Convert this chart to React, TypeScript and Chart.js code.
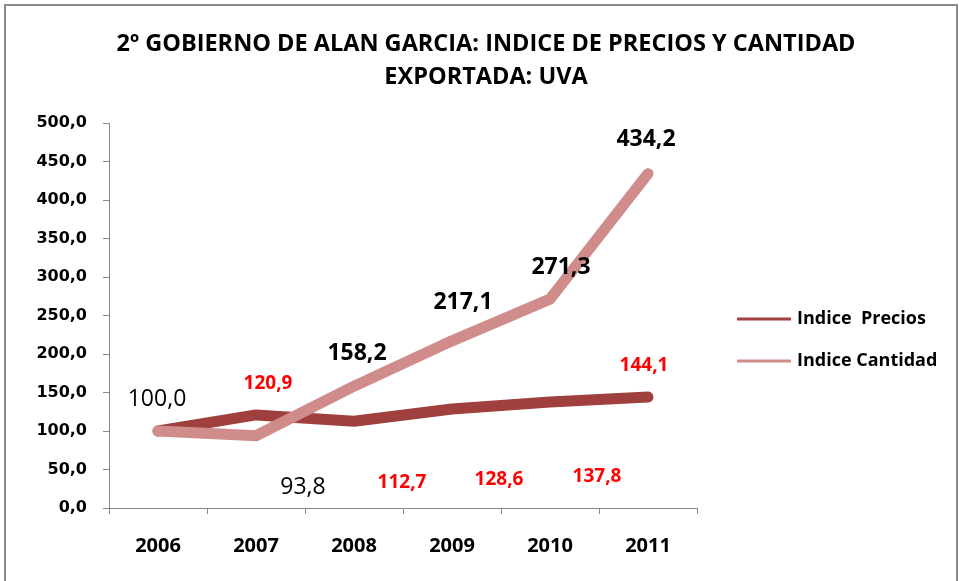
import React, { useEffect, useRef } from "react";
import { Chart, registerables } from "chart.js";

Chart.register(...registerables);

const categories = ["2006", "2007", "2008", "2009", "2010", "2011"];
const preciosValues = [100.0, 120.9, 112.7, 128.6, 137.8, 144.1];
const cantidadValues = [100.0, 93.8, 158.2, 217.1, 271.3, 434.2];
const seriesNames = ["Indice  Precios", "Indice Cantidad"];
const titleLines = ["2º GOBIERNO DE ALAN GARCIA: INDICE DE PRECIOS Y CANTIDAD", "EXPORTADA: UVA"];

const FONT = "'Open Sans', sans-serif";
const fmt = (v: number) => v.toFixed(1).replace(".", ",");

// label placement relative to point (dx, dy in px)
const labelStyles = [
  {
    color: "#ff0000",
    size: 19,
    offsets: [[0, 0], [12, -31], [48, 61], [47, 71], [47, 75], [-4, -31]],
    bold: [true, true, true, true, true, true],
    hidden: [true, false, false, false, false, false],
  },
  {
    color: "#000000",
    size: 23,
    offsets: [[-1, -32], [47, 52], [3, -33], [11, -38], [11, -32], [-2, -34]],
    bold: [false, false, true, true, true, true],
    hidden: [false, false, false, false, false, false],
  },
];

const titlePlugin = {
  id: "customTitle",
  afterDraw(chart: any) {
    const ctx = chart.ctx;
    ctx.save();
    ctx.fillStyle = "#000";
    ctx.font = `bold 23.5px ${FONT}`;
    ctx.textAlign = "center";
    ctx.textBaseline = "middle";
    const ys = [44, 77];
    titleLines.forEach((t, i) => ctx.fillText(t, 486, ys[i]));
    ctx.restore();
  },
};

const dataLabelPlugin = {
  id: "customLabels",
  afterDatasetsDraw(chart: any) {
    const ctx = chart.ctx;
    chart.data.datasets.forEach((ds: any, di: number) => {
      const meta = chart.getDatasetMeta(di);
      const st = labelStyles[di];
      meta.data.forEach((pt: any, i: number) => {
        if (st.hidden[i]) return;
        const v = ds.data[i];
        ctx.save();
        ctx.fillStyle = st.color;
        ctx.font = `${st.bold[i] ? "bold " : ""}${st.size}px ${FONT}`;
        ctx.textAlign = "center";
        ctx.textBaseline = "middle";
        ctx.fillText(fmt(v), pt.x + st.offsets[i][0], pt.y + st.offsets[i][1]);
        ctx.restore();
      });
    });
  },
};

const legendPlugin = {
  id: "customLegend",
  afterDraw(chart: any) {
    const ctx = chart.ctx;
    const x0 = 737;
    const ys = [319, 361];
    chart.data.datasets.forEach((ds: any, di: number) => {
      ctx.save();
      ctx.strokeStyle = ds.borderColor;
      ctx.lineWidth = 3;
      ctx.beginPath();
      ctx.moveTo(x0, ys[di]);
      ctx.lineTo(x0 + 54, ys[di]);
      ctx.stroke();
      ctx.fillStyle = "#000";
      ctx.font = `bold 18px ${FONT}`;
      ctx.textAlign = "left";
      ctx.textBaseline = "middle";
      ctx.fillText(ds.label, x0 + 60, ys[di]);
      ctx.restore();
    });
  },
};

export default function App() {
  const canvasRef = useRef<HTMLCanvasElement | null>(null);

  useEffect(() => {
    document.body.style.margin = "0";
    const canvas = canvasRef.current!;
    const chart = new Chart(canvas, {
      type: "line",
      data: {
        labels: categories,
        datasets: [
          {
            label: seriesNames[0],
            data: preciosValues,
            borderColor: "#A0403E",
            backgroundColor: "#A0403E",
            borderWidth: 11,
            pointRadius: 0,
            tension: 0,
            borderCapStyle: "round",
            borderJoinStyle: "round",
            order: 2,
          },
          {
            label: seriesNames[1],
            data: cantidadValues,
            borderColor: "#D08C8B",
            backgroundColor: "#D08C8B",
            borderWidth: 11,
            pointRadius: 0,
            tension: 0,
            borderCapStyle: "round",
            borderJoinStyle: "round",
            order: 1,
          },
        ],
      },
      options: {
        responsive: false,
        animation: false,
        layout: { padding: { top: 123, left: 0, right: 266, bottom: 0 } },
        plugins: {
          legend: { display: false },
          tooltip: { enabled: false },
          title: { display: false },
        },
        scales: {
          x: {
            type: "category",
            offset: true,
            grid: { offset: true, drawOnChartArea: false, drawTicks: true, tickLength: 6, color: "#888" },
            border: { display: true, color: "#888", width: 1 },
            ticks: { color: "#000", font: { family: FONT, size: 20, weight: "bold" }, padding: 20 },
            afterFit: (s: any) => { s.height = 73; },
          },
          y: {
            min: 0,
            max: 500,
            grid: { drawOnChartArea: false, drawTicks: true, tickLength: 6, color: "#888" },
            border: { display: true, color: "#888", width: 1 },
            ticks: {
              stepSize: 50,
              color: "#000",
              font: { family: "'DejaVu Sans', sans-serif", size: 16, weight: "bold" },
              padding: 16,
              callback: (v: any) => fmt(Number(v)),
            },
            afterFit: (s: any) => { s.width = 109; },
          },
        },
      },
      plugins: [dataLabelPlugin, legendPlugin, titlePlugin],
    });
    return () => chart.destroy();
  }, []);

  return (
    <div style={{ position: "relative", width: 963, height: 581, background: "#fff" }}>
      <canvas ref={canvasRef} width={963} height={581} style={{ display: "block" }} />
      <div
        style={{
          position: "absolute",
          left: 4,
          top: 4,
          width: 954,
          height: 590,
          border: "2px solid #8a8a8a",
          boxSizing: "border-box",
          pointerEvents: "none",
        }}
      />
    </div>
  );
}
